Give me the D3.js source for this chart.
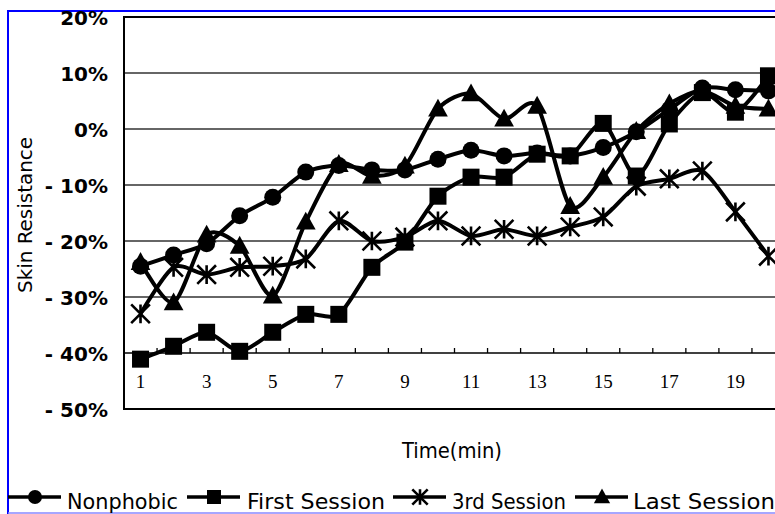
<!DOCTYPE html>
<html>
<head>
<meta charset="utf-8">
<script src="https://cdn.jsdelivr.net/npm/d3@7"></script>
<style>
  html, body { margin: 0; padding: 0; background: #fff; overflow: hidden; }
  .tick-y { font-family: "DejaVu Sans", Verdana, sans-serif; font-size: 20px; font-weight: bold; fill: #000; }
  .tick-x { font-family: "Liberation Serif", serif; font-size: 19px; fill: #000; }
  .title  { font-family: "DejaVu Sans", sans-serif; font-size: 19px; fill: #000; }
  .xtitle { font-family: "DejaVu Sans", sans-serif; font-size: 21px; fill: #000; }
  .legend { font-family: "DejaVu Sans", sans-serif; font-size: 22px; fill: #000; }
</style>
</head>
<body>
<svg id="chart" width="775" height="514"></svg>
<script>
(function(d3) {

  // Data (percent change in skin resistance)
  var minutes = d3.range(1, 21);
  var nonphobic     = [-24.5, -22.5, -20.5, -15.5, -12.2, -7.7, -6.5, -7.3, -7.3, -5.4, -3.8, -4.8, -4.3, -4.8, -3.3, -0.5, 3.5, 7.3, 7.0, 6.8];
  var firstSession  = [-41.1, -38.8, -36.3, -39.7, -36.3, -33.1, -33.1, -24.7, -20.2, -12.0, -8.6, -8.6, -4.5, -4.8, 1.0, -8.4, 0.9, 6.5, 3.0, 9.5];
  var thirdSession  = [-33.0, -24.7, -26.0, -24.7, -24.5, -23.2, -16.4, -20.0, -19.3, -16.4, -19.1, -17.9, -19.1, -17.5, -15.7, -10.2, -8.9, -7.5, -14.8, -22.7];
  var lastSession   = [-23.8, -31.0, -18.9, -20.9, -29.8, -16.6, -6.3, -8.4, -6.6, 3.6, 6.3, 1.8, 4.1, -13.8, -8.6, -0.4, 4.5, 6.8, 4.1, 3.6];
  var yTicks = [20, 10, 0, -10, -20, -30, -40, -50];
  var xTickLabels = [1, 3, 5, 7, 9, 11, 13, 15, 17, 19];
  var seriesNames = ["Nonphobic", "First Session", "3rd Session", "Last Session"];
  var markers = ["circle", "square", "asterisk", "triangle"];

  var series = [nonphobic, firstSession, thirdSession, lastSession];

  var svg = d3.select("#chart");

  // Plot area (the right edge runs off the picture)
  var left = 124, top = 17, bottom = 409, step = 33.05;

  var x = d3.scaleBand()
    .domain(minutes)
    .range([left, left + step * minutes.length])
    ;

  var y = d3.scaleLinear()
    .domain([-50, 20])
    .range([bottom, top])
    ;

  var cx = function(m) { return x(m) + x.bandwidth() / 2; };

  // Blue frame
  svg.append("path")
    .attr("d", "M8,514 L8,11 L775,11")
    .attr("fill", "none")
    .attr("stroke", "#0000ff")
    .attr("stroke-width", 2)
    ;
  svg.append("line")
    .attr("x1", 8).attr("x2", 775)
    .attr("y1", 513).attr("y2", 513)
    .attr("stroke", "#8888ff")
    .attr("stroke-width", 1.5)
    ;

  // Gridlines
  svg.selectAll(".grid")
    .data([10, 0, -10, -20, -30])
    .enter().append("line")
    .attr("class", "grid")
    .attr("x1", left).attr("x2", 775)
    .attr("y1", function(d) { return y(d); })
    .attr("y2", function(d) { return y(d); })
    .attr("stroke", "#333")
    .attr("stroke-width", 1.3)
    ;

  // Plot area border
  svg.append("path")
    .attr("d", "M775," + y(20) + " L" + left + "," + y(20) + " L" + left + "," + y(-50) + " L775," + y(-50))
    .attr("fill", "none")
    .attr("stroke", "#000")
    .attr("stroke-width", 2)
    ;

  // Category axis crossing at -40%
  var xAxis = d3.axisTop(x)
    .tickValues([])
    .tickSizeOuter(0)
    ;
  var xg = svg.append("g").call(xAxis);
  xg.select(".domain").attr("d", "M" + left + "," + y(-40) + "H775").attr("stroke-width", 1.5);

  svg.selectAll(".xtick")
    .data(d3.range(0, minutes.length + 1))
    .enter().append("line")
    .attr("x1", function(k) { return left + k * step; })
    .attr("x2", function(k) { return left + k * step; })
    .attr("y1", y(-40))
    .attr("y2", y(-40) - 5)
    .attr("stroke", "#000")
    .attr("stroke-width", 1.3)
    ;

  svg.selectAll(".tick-x")
    .data(xTickLabels)
    .enter().append("text")
    .attr("class", "tick-x")
    .attr("x", function(d) { return cx(d); })
    .attr("y", 388)
    .attr("text-anchor", "middle")
    .text(function(d) { return d; })
    ;

  // Value axis labels
  svg.selectAll(".tick-y")
    .data(yTicks)
    .enter().append("text")
    .attr("class", "tick-y")
    .attr("x", 108)
    .attr("y", function(d) { return y(d) + 8; })
    .attr("text-anchor", "end")
    .text(function(d) { return (d < 0 ? "- " + (-d) : d) + "%"; })
    ;

  // Axis titles
  svg.append("text")
    .attr("class", "title")
    .attr("transform", "translate(32,215) rotate(-90)")
    .attr("text-anchor", "middle")
    .attr("textLength", 156)
    .attr("lengthAdjust", "spacingAndGlyphs")
    .text("Skin Resistance")
    ;
  svg.append("text")
    .attr("class", "xtitle")
    .attr("x", 402)
    .attr("y", 458)
    .attr("textLength", 100)
    .attr("lengthAdjust", "spacingAndGlyphs")
    .text("Time(min)")
    ;

  // Marker drawing
  function drawMarker(g, type, s) {
    if (type === "circle") {
      g.append("circle").attr("r", s * 0.5).attr("fill", "#000");
    } else if (type === "square") {
      g.append("rect").attr("x", -s / 2).attr("y", -s / 2).attr("width", s).attr("height", s).attr("fill", "#000");
    } else if (type === "triangle") {
      g.append("path").attr("d", "M0," + (-s * 0.6) + " L" + (s * 0.58) + "," + (s * 0.45) + " L" + (-s * 0.58) + "," + (s * 0.45) + "Z").attr("fill", "#000");
    } else {
      var a = s * 0.55;
      g.append("path")
        .attr("d", "M0," + (-a) + "V" + a + " M" + (-a) + "," + (-a) + "L" + a + "," + a + " M" + a + "," + (-a) + "L" + (-a) + "," + a)
        .attr("stroke", "#000")
        .attr("stroke-width", 2.6)
        .attr("fill", "none");
    }
  }

  // Smoothed lines
  var line = d3.line()
    .x(function(d, i) { return cx(minutes[i]); })
    .y(function(d) { return y(d); })
    .curve(d3.curveCardinal.tension(0.2))
    ;

  series.forEach(function(vals) {
    svg.append("path")
      .attr("d", line(vals))
      .attr("fill", "none")
      .attr("stroke", "#000")
      .attr("stroke-width", 4)
      ;
  });

  series.forEach(function(vals, si) {
    svg.selectAll(".m" + si)
      .data(vals)
      .enter().append("g")
      .attr("class", "m" + si)
      .attr("transform", function(d, i) { return "translate(" + cx(minutes[i]) + "," + y(d) + ")"; })
      .each(function() { drawMarker(d3.select(this), markers[si], 17); })
      ;
  });

  // Legend
  var legendPos = [
    { x0: 8,   tx: 67,  w: 111 },
    { x0: 187, tx: 247, w: 138 },
    { x0: 393, tx: 452, w: 114 },
    { x0: 575, tx: 633, w: 142 }
  ];
  seriesNames.forEach(function(name, i) {
    var p = legendPos[i], ly = 497;
    svg.append("line")
      .attr("x1", p.x0).attr("x2", p.x0 + 53)
      .attr("y1", ly).attr("y2", ly)
      .attr("stroke", "#000")
      .attr("stroke-width", 3.5)
      ;
    var g = svg.append("g").attr("transform", "translate(" + (p.x0 + 27) + "," + ly + ")");
    drawMarker(g, markers[i], 14);
    svg.append("text")
      .attr("class", "legend")
      .attr("x", p.tx)
      .attr("y", 509)
      .attr("textLength", p.w)
      .attr("lengthAdjust", "spacingAndGlyphs")
      .text(name)
      ;
  });

})(d3);
</script>
</body>
</html>
